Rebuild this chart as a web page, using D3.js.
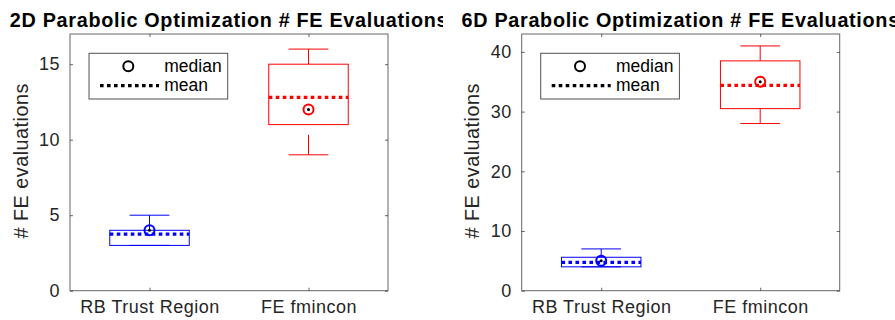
<!DOCTYPE html>
<html>
<head>
<meta charset="utf-8">
<script src="https://cdn.jsdelivr.net/npm/d3@7"></script>
<style>
  body { margin: 0; background: #fff; }
  text { font-family: "Liberation Sans", Arial, Helvetica, sans-serif; }
</style>
</head>
<body>
<div class="chart"></div>
<script>
// data
var categories = ["RB Trust Region", "FE fmincon"];
var boxColors = ["#0000ff", "#ff0000"];

var titles = ["2D Parabolic Optimization # FE Evaluations", "6D Parabolic Optimization # FE Evaluations"];

var min2D = [3, 9];
var q1_2D = [3, 11];
var median2D = [4, 12];
var q3_2D = [4, 15];
var max2D = [5, 16];
var mean2D = [3.75, 12.8];

var min6D = [4, 28];
var q1_6D = [4, 30.5];
var median6D = [5, 35];
var q3_6D = [5.6, 38.5];
var max6D = [7, 41];
var mean6D = [4.75, 34.4];

var yTicks2D = [0, 5, 10, 15];
var yTicks6D = [0, 10, 20, 30, 40];
var yMax = [17, 43];

var width = 895, height = 320;

var svg = d3.select(".chart").append("svg")
    .attr("width", width)
    .attr("height", height);

// each panel is its own image in the reference, so the long left title gets cut
var defs = svg.append("defs");
defs.append("clipPath").attr("id", "clipLeft")
    .append("rect").attr("x", 0).attr("y", 0).attr("width", 443).attr("height", height);
defs.append("clipPath").attr("id", "clipRight")
    .append("rect").attr("x", 443).attr("y", 0).attr("width", width - 443).attr("height", height);

var panels = [
    { left: 70, title: titles[0], mins: min2D, q1: q1_2D, med: median2D, q3: q3_2D, maxs: max2D, means: mean2D, ticks: yTicks2D, ymax: yMax[0], clip: "clipLeft" },
    { left: 521.7, title: titles[1], mins: min6D, q1: q1_6D, med: median6D, q3: q3_6D, maxs: max6D, means: mean6D, ticks: yTicks6D, ymax: yMax[1], clip: "clipRight" }
];

var axisColor = "#262626";
var plotTop = 34, plotBottom = 290.7, plotW = 318;

panels.forEach(function(p) {
    var g = svg.append("g").attr("clip-path", "url(#" + p.clip + ")");

    var x = d3.scaleLinear().domain([0.5, 2.5]).range([p.left, p.left + plotW]);
    var y = d3.scaleLinear().domain([0, p.ymax]).range([plotBottom, plotTop]);

    // axes box
    g.append("rect")
        .attr("x", x(0.5)).attr("y", y(p.ymax))
        .attr("width", x(2.5) - x(0.5)).attr("height", y(0) - y(p.ymax))
        .attr("fill", "none")
        .attr("stroke", axisColor)
        .attr("stroke-opacity", 0.7)
        .attr("stroke-width", 1);

    // y axis (left, ticks inward) + mirrored right ticks
    var yAxis = g.append("g")
        .attr("transform", "translate(" + x(0.5) + ",0)")
        .call(d3.axisLeft(y).tickValues(p.ticks).tickSizeInner(-3).tickSizeOuter(0).tickPadding(10));
    yAxis.select(".domain").remove();
    yAxis.selectAll("line").attr("stroke", axisColor).attr("stroke-opacity", 0.7);
    yAxis.selectAll("text")
        .attr("fill", axisColor)
        .style("font-size", "18px")
        .style("letter-spacing", "0.5px")
        .attr("font-family", null);

    var yAxisR = g.append("g")
        .attr("transform", "translate(" + x(2.5) + ",0)")
        .call(d3.axisRight(y).tickValues(p.ticks).tickSizeInner(-3).tickSizeOuter(0).tickFormat(""));
    yAxisR.select(".domain").remove();
    yAxisR.selectAll("line").attr("stroke", axisColor).attr("stroke-opacity", 0.7);

    // x axis (bottom) + mirrored top ticks
    var xAxis = g.append("g")
        .attr("transform", "translate(0," + y(0) + ")")
        .call(d3.axisBottom(x).tickValues([1, 2]).tickSizeInner(-3).tickSizeOuter(0).tickPadding(10)
            .tickFormat(function(d) { return categories[d - 1]; }));
    xAxis.select(".domain").remove();
    xAxis.selectAll("line").attr("stroke", axisColor).attr("stroke-opacity", 0.7);
    xAxis.selectAll("text")
        .attr("fill", axisColor)
        .style("font-size", "18px")
        .style("letter-spacing", "0.5px")
        .attr("font-family", null);

    var xAxisT = g.append("g")
        .attr("transform", "translate(0," + y(p.ymax) + ")")
        .call(d3.axisTop(x).tickValues([1, 2]).tickSizeInner(-3).tickSizeOuter(0).tickFormat(""));
    xAxisT.select(".domain").remove();
    xAxisT.selectAll("line").attr("stroke", axisColor).attr("stroke-opacity", 0.7);

    // y label
    g.append("text")
        .attr("transform", "translate(" + (p.left - 42.5) + "," + ((plotTop + plotBottom) / 2 - 1.5) + ") rotate(-90)")
        .attr("text-anchor", "middle")
        .attr("fill", axisColor)
        .style("font-size", "19.8px")
        .style("letter-spacing", "0.5px")
        .text("# FE evaluations");

    // title
    g.append("text")
        .attr("x", (x(0.5) + x(2.5)) / 2)
        .attr("y", 26.7)
        .attr("text-anchor", "middle")
        .attr("fill", "#000")
        .style("font-size", "19.8px")
        .style("font-weight", "bold")
        .style("letter-spacing", "0.7px")
        .text(p.title);

    // boxes
    var boxHalf = 0.25, capHalf = 0.125;
    categories.forEach(function(c, i) {
        var cx = i + 1;
        var col = boxColors[i];
        var bg = g.append("g");

        // whiskers, drawn from cap toward box (dashed like the reference)
        bg.append("line")
            .attr("x1", x(cx)).attr("x2", x(cx))
            .attr("y1", y(p.maxs[i])).attr("y2", y(p.q3[i]))
            .attr("stroke", col).attr("stroke-dasharray", "20,12");
        bg.append("line")
            .attr("x1", x(cx)).attr("x2", x(cx))
            .attr("y1", y(p.mins[i])).attr("y2", y(p.q1[i]))
            .attr("stroke", col).attr("stroke-dasharray", "20,12");
        // caps
        [p.maxs[i], p.mins[i]].forEach(function(v) {
            bg.append("line")
                .attr("x1", x(cx - capHalf)).attr("x2", x(cx + capHalf))
                .attr("y1", y(v)).attr("y2", y(v))
                .attr("stroke", col);
        });
        // box
        bg.append("rect")
            .attr("x", x(cx - boxHalf)).attr("y", y(p.q3[i]))
            .attr("width", x(cx + boxHalf) - x(cx - boxHalf))
            .attr("height", Math.max(0, y(p.q1[i]) - y(p.q3[i])))
            .attr("fill", "none")
            .attr("stroke", col);
        // mean
        bg.append("line")
            .attr("x1", x(cx - boxHalf)).attr("x2", x(cx + boxHalf))
            .attr("y1", y(p.means[i])).attr("y2", y(p.means[i]))
            .attr("stroke", col).attr("stroke-width", 3.2)
            .attr("stroke-dasharray", "3.6,3.4");
        // median marker
        bg.append("circle")
            .attr("cx", x(cx)).attr("cy", y(p.med[i])).attr("r", 5)
            .attr("fill", "none").attr("stroke", col).attr("stroke-width", 2);
        bg.append("circle")
            .attr("cx", x(cx)).attr("cy", y(p.med[i])).attr("r", 1.5)
            .attr("fill", "#000");
    });

    // legend
    var lx = p.left + 19, ly = 53.3;
    var leg = g.append("g").attr("transform", "translate(" + lx + "," + ly + ")");
    leg.append("rect")
        .attr("width", 138.7).attr("height", 45.7)
        .attr("fill", "#fff")
        .attr("stroke", axisColor).attr("stroke-opacity", 0.8);
    leg.append("circle")
        .attr("cx", 39.3).attr("cy", 13).attr("r", 5)
        .attr("fill", "none").attr("stroke", "#000").attr("stroke-width", 2);
    leg.append("line")
        .attr("x1", 11).attr("x2", 70).attr("y1", 32.4).attr("y2", 32.4)
        .attr("stroke", "#000").attr("stroke-width", 3.2)
        .attr("stroke-dasharray", "3.6,3.4");
    leg.append("text")
        .attr("x", 75.3).attr("y", 13).attr("dy", "0.35em")
        .style("font-size", "17.5px")
        .text("median");
    leg.append("text")
        .attr("x", 75.3).attr("y", 31.4).attr("dy", "0.35em")
        .style("font-size", "17.5px")
        .text("mean");
});
</script>
</body>
</html>
